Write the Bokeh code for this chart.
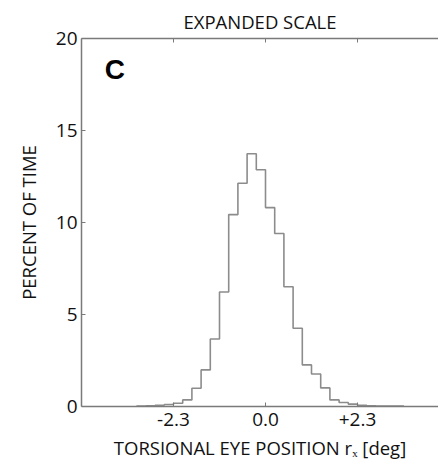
from bokeh.plotting import figure
from bokeh.models import Range1d, FixedTicker, LinearAxis, Label
from bokeh.embed import file_html
from bokeh.resources import INLINE

# bin width 0.23 deg, left edges from -3.22
bin_width = 0.23
first_edge = -3.22
percent = [0.02, 0.04, 0.07, 0.11, 0.18, 0.36, 0.99, 1.99, 3.67, 6.22,
           10.43, 12.13, 13.74, 12.87, 10.81, 9.40, 6.51, 4.25, 2.26, 1.77,
           1.01, 0.36, 0.22, 0.13, 0.07, 0.04, 0.02, 0.02, 0.03]
x_ticks = [-2.3, 0.0, 2.3]
x_tick_labels = ["-2.3", "0.0", "+2.3"]
y_ticks = [0, 5, 10, 15, 20]

edges = [round(first_edge + i * bin_width, 4) for i in range(len(percent) + 1)]
step_x = [edges[0]] + edges
step_y = [0.0] + percent + [0.0]

FONT = "Open Sans"
TXT = "#111111"
AX = "#7a7a7a"

p = figure(width=438, height=462, output_backend="svg", toolbar_location=None,
           x_axis_location=None, y_axis_location=None,
           x_range=Range1d(-4.6, 4.325), y_range=Range1d(0, 20),
           title="EXPANDED SCALE")
p.min_border_left = 81
p.min_border_right = 0
p.min_border_top = 38
p.min_border_bottom = 56
p.outline_line_color = None
p.xgrid.visible = False
p.ygrid.visible = False
p.background_fill_color = "white"
p.border_fill_color = "white"
p.title.align = "center"
p.title.text_font = FONT
p.title.text_font_size = "18.5px"
p.title.text_font_style = "normal"
p.title.text_color = TXT
p.title.standoff = 9

p.step(x=step_x, y=step_y, mode="after", line_color="#8c8c8c", line_width=1.6)

xb = LinearAxis(ticker=FixedTicker(ticks=x_ticks),
                axis_label="TORSIONAL EYE POSITION rₓ [deg]")
xb.major_label_overrides = {t: s for t, s in zip(x_ticks, x_tick_labels)}
xb.major_tick_in = 4
xb.major_tick_out = 0
xb.minor_tick_line_color = None
xb.axis_line_color = AX
xb.axis_line_width = 1.5
xb.major_tick_line_color = AX
xb.major_label_standoff = 6
xb.major_label_text_font = FONT
xb.major_label_text_font_size = "19px"
xb.major_label_text_color = TXT
xb.axis_label_text_font = FONT
xb.axis_label_text_font_size = "18.5px"
xb.axis_label_text_font_style = "normal"
xb.axis_label_text_color = TXT
xb.axis_label_standoff = 6
p.add_layout(xb, "below")

xt = LinearAxis(ticker=FixedTicker(ticks=x_ticks))
xt.major_tick_in = 4
xt.major_tick_out = 0
xt.minor_tick_line_color = None
xt.axis_line_color = AX
xt.axis_line_width = 1.5
xt.major_tick_line_color = AX
xt.major_label_text_font_size = "0px"
xt.major_label_text_color = None
p.add_layout(xt, "above")

yl = LinearAxis(ticker=FixedTicker(ticks=y_ticks), axis_label="PERCENT OF TIME")
yl.major_tick_in = 4
yl.major_tick_out = 0
yl.minor_tick_line_color = None
yl.axis_line_color = AX
yl.axis_line_width = 1.5
yl.major_tick_line_color = AX
yl.major_label_standoff = 4
yl.major_label_text_font = FONT
yl.major_label_text_font_size = "19px"
yl.major_label_text_color = TXT
yl.axis_label_text_font = FONT
yl.axis_label_text_font_size = "18.5px"
yl.axis_label_text_font_style = "normal"
yl.axis_label_text_color = TXT
yl.axis_label_standoff = 12
p.add_layout(yl, "left")

p.add_layout(Label(x=-4.02, y=18.3, text="C", text_font="Liberation Sans",
                   text_font_style="bold", text_font_size="28px", text_color="black",
                   text_align="left", text_baseline="middle"))

open("out.html", "w").write(file_html(p, INLINE))
